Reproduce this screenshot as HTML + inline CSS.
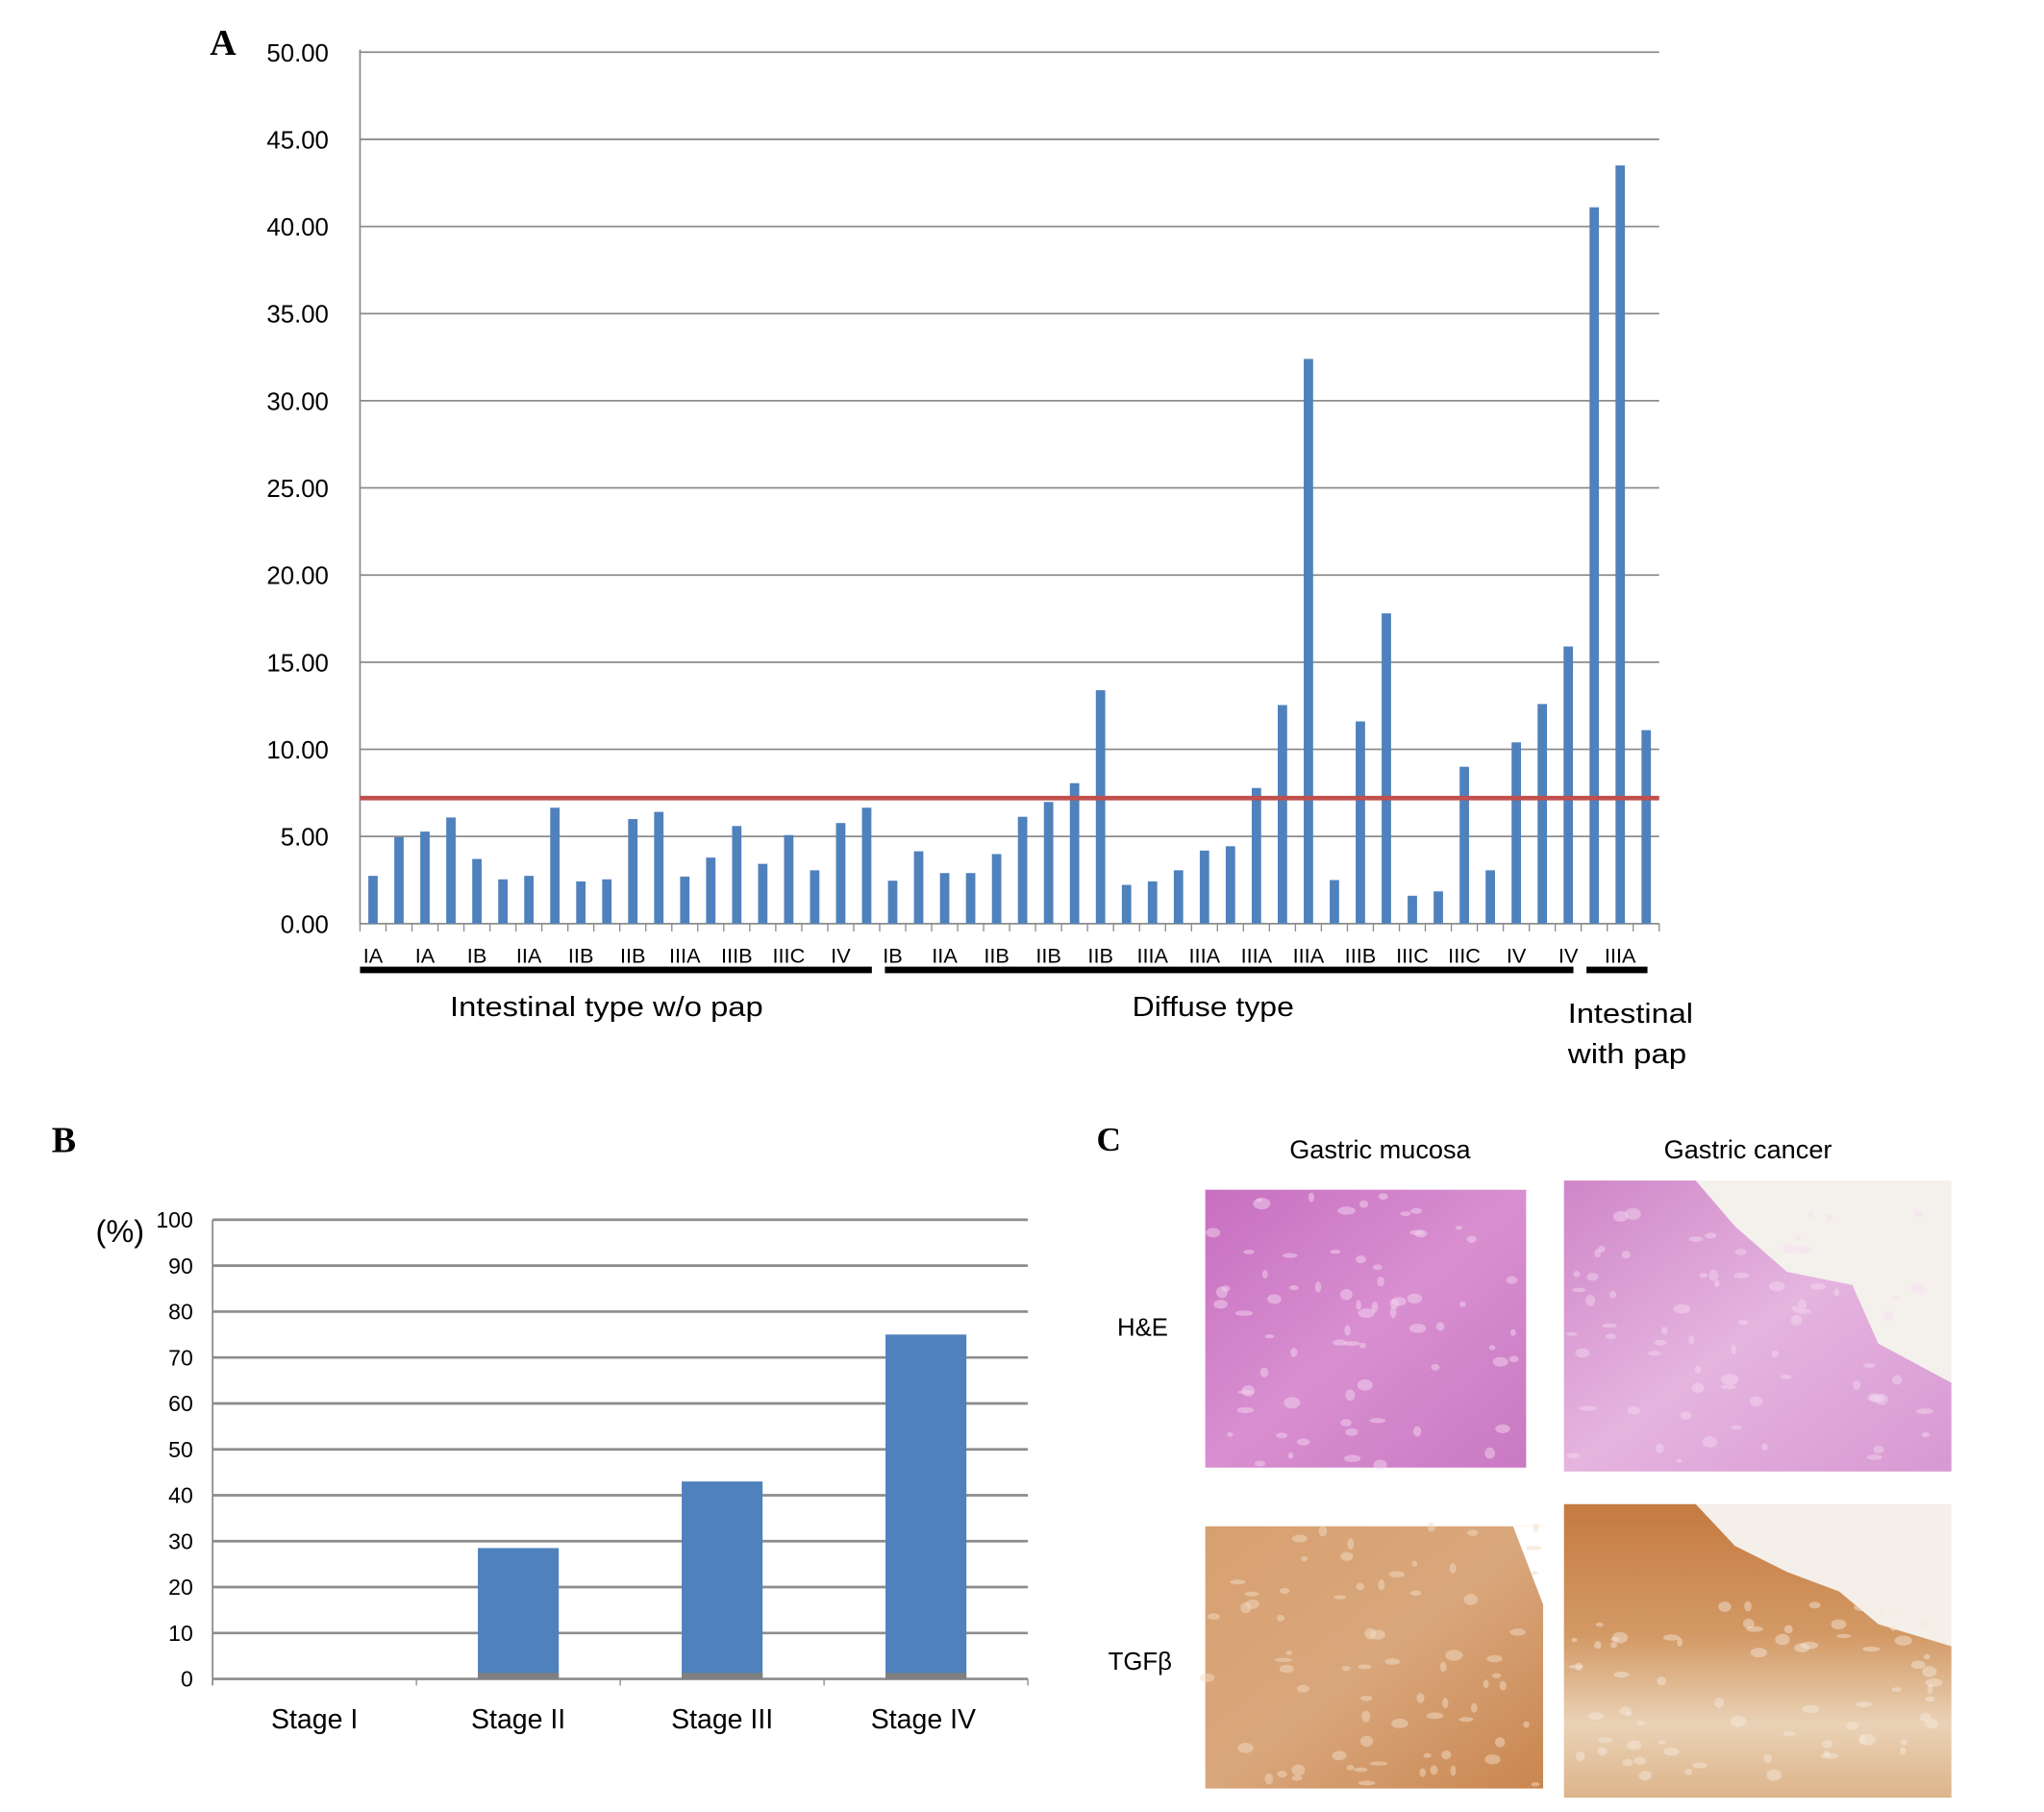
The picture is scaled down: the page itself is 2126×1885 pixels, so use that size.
<!DOCTYPE html>
<html><head><meta charset="utf-8"><style>
html,body{margin:0;padding:0;background:#fff}
svg{display:block}
text{font-family:"Liberation Sans",sans-serif}
</style></head><body>
<svg id="fig" width="2126" height="1885" viewBox="0 0 1567 1389" preserveAspectRatio="none" xmlns="http://www.w3.org/2000/svg">
<defs>
<linearGradient id="heM" x1="0" y1="0" x2="1" y2="1"><stop offset="0" stop-color="#c76fc0"/><stop offset="0.5" stop-color="#d88fd0"/><stop offset="1" stop-color="#c979c2"/></linearGradient>
<linearGradient id="heC" x1="0" y1="0" x2="1" y2="1"><stop offset="0" stop-color="#cf86c8"/><stop offset="0.5" stop-color="#e5b4df"/><stop offset="1" stop-color="#d898d2"/></linearGradient>
<linearGradient id="tgM" x1="0" y1="0" x2="1" y2="1"><stop offset="0" stop-color="#d7a070"/><stop offset="0.5" stop-color="#d9a77c"/><stop offset="1" stop-color="#c98650"/></linearGradient>
<linearGradient id="tgC" x1="0" y1="0" x2="0" y2="1"><stop offset="0" stop-color="#c57a40"/><stop offset="0.45" stop-color="#d39a66"/><stop offset="0.75" stop-color="#ead2b6"/><stop offset="1" stop-color="#dcb48a"/></linearGradient>
</defs>
<g id="panelA"></g>
<g id="panelB"></g>
<g id="panelC">
  <text x="850" y="882" font-weight="bold" font-size="26" text-anchor="middle" style="font-family:'Liberation Serif',serif">C</text>
  <text x="1058" y="888" font-size="20" text-anchor="middle">Gastric mucosa</text>
  <text x="1340" y="888" font-size="20" text-anchor="middle">Gastric cancer</text>
  <text x="876" y="1024" font-size="19" text-anchor="middle">H&amp;E</text>
  <text x="874" y="1280" font-size="19" text-anchor="middle">TGFβ</text>
  <rect x="924" y="912" width="246" height="213" fill="url(#heM)"/>
  <rect x="1199" y="905" width="297" height="223" fill="#f4f0ec"/>
  <polygon points="1199,905 1300,905 1330,940 1370,975 1420,985 1440,1030 1496,1060 1496,1128 1199,1128" fill="url(#heC)"/>
  <rect x="924" y="1170" width="259" height="201" fill="url(#tgM)"/>
  <polygon points="1183,1170 1160,1170 1183,1230" fill="#fff"/>
  <rect x="1199" y="1153" width="297" height="225" fill="#f4efe8"/>
  <polygon points="1199,1153 1300,1153 1330,1185 1370,1205 1410,1220 1440,1245 1496,1262 1496,1378 1199,1378" fill="url(#tgC)"/>
  <g id="texture"></g>
</g>
<script>
var NS="http://www.w3.org/2000/svg";
function mk(tag,attrs,parent,txt){var e=document.createElementNS(NS,tag);for(var k in attrs)e.setAttribute(k,attrs[k]);if(txt!==undefined)e.textContent=txt;parent.appendChild(e);return e;}

/* ---------- Panel A data ---------- */
var aValues=[2.74,4.96,5.28,6.09,3.71,2.54,2.74,6.65,2.42,2.54,6.0,6.41,2.7,3.79,5.6,3.43,5.08,3.06,5.77,6.65,
2.46,4.15,2.9,2.9,3.99,6.13,6.98,8.06,13.39,2.22,2.42,3.06,4.19,4.44,7.78,12.54,32.4,2.5,11.6,17.8,1.6,1.85,9.0,3.06,10.4,12.6,15.9,
41.1,43.5,11.1];
var aCategories=["IA","IA","IB","IIA","IIB","IIB","IIIA","IIIB","IIIC","IV","IB","IIA","IIB","IIB","IIB","IIIA","IIIA","IIIA","IIIA","IIIB","IIIC","IIIC","IV","IV","IIIA"];
var aTicks=["0.00","5.00","10.00","15.00","20.00","25.00","30.00","35.00","40.00","45.00","50.00"];
var aThreshold=7.2;
var aGroups=[{name:"Intestinal type w/o pap",from:0,to:20},{name:"Diffuse type",from:20,to:47},{name:"Intestinal with pap",from:47,to:50}];

/* ---------- Panel B data ---------- */
var bCategories=["Stage I","Stage II","Stage III","Stage IV"];
var bValues=[0,28.5,43,75];
var bTicks=[0,10,20,30,40,50,60,70,80,90,100];

(function(){
  var g=document.getElementById("panelA");
  var L=276,R=1272,Y0=708,Ytop=40,max=50;
  var y=function(v){return Y0-(v/max)*(Y0-Ytop);};
  var band=(R-L)/aValues.length;
  var x=function(i){return L+band*i;};
  var t=mk("text",{x:171,y:42,"font-size":28,"font-weight":"bold","text-anchor":"middle",style:"font-family:'Liberation Serif',serif"},g,"A");
  
  
  aTicks.forEach(function(lab){
    var v=parseFloat(lab);
    var gl=mk("line",{x1:L,x2:R,y1:y(v),y2:y(v),stroke:"#8c8c8c","stroke-width":1.3},g);
    
    
    var tl=mk("text",{x:252,y:y(v)+7,"font-size":19,"text-anchor":"end"},g,lab);
    
    
  });
  var ax=mk("line",{x1:L,x2:L,y1:Ytop-2,y2:Y0,stroke:"#8c8c8c","stroke-width":1.3},g);
  
  
  for(var i=0;i<=aValues.length;i++){
    var tk=mk("line",{x1:x(i),x2:x(i),y1:Y0,y2:Y0+6,stroke:"#8c8c8c","stroke-width":1},g);
    
    
  }
  aValues.forEach(function(v,i){
    var b=mk("rect",{x:x(i)+band/2-3.6,y:y(v),width:7.2,height:Y0-y(v),fill:"#4f81bd"},g);
    
    
  });
  var th=mk("line",{x1:L,x2:R,y1:y(aThreshold),y2:y(aThreshold),stroke:"#c0504d","stroke-width":3.5},g);
  
  
  aCategories.forEach(function(c,k){
    var cl=mk("text",{x:x(2*k)+band/2,y:738,"font-size":16,"text-anchor":"middle"},g,c);
    
    
  });
  aGroups.forEach(function(gr,k){
    var x1=x(gr.from)+(k?4:0), x2=x(gr.to)-(k==2?9:6);
    var br=mk("rect",{x:x1,y:741,width:x2-x1,height:5,fill:"#000"},g);
    
    
  });
  var g1=mk("text",{x:345,y:779,"font-size":21,textLength:240,lengthAdjust:"spacingAndGlyphs"},g,aGroups[0].name);
  
  
  var g2=mk("text",{x:868,y:779,"font-size":21,textLength:124,lengthAdjust:"spacingAndGlyphs"},g,aGroups[1].name);
  
  
  var g3=mk("text",{x:1202,y:784,"font-size":21,textLength:96,lengthAdjust:"spacingAndGlyphs"},g,"Intestinal");
  
  
  var g4=mk("text",{x:1202,y:815,"font-size":21,textLength:91,lengthAdjust:"spacingAndGlyphs"},g,"with pap");
  
  
})();

(function(){
  var g=document.getElementById("panelB");
  var L=163,R=788,Y0=1287,Ytop=935,max=100;
  var y=function(v){return Y0-(v/max)*(Y0-Ytop);};
  var band=(R-L)/bCategories.length;
  var t=mk("text",{x:49,y:883,"font-size":28,"font-weight":"bold","text-anchor":"middle",style:"font-family:'Liberation Serif',serif"},g,"B");
  
  
  var u=mk("text",{x:92,y:952,"font-size":24,"text-anchor":"middle"},g,"(%)");
  
  
  bTicks.forEach(function(v){
    var gl=mk("line",{x1:L,x2:R,y1:y(v),y2:y(v),stroke:"#8c8c8c","stroke-width":2},g);
    
    
    var tl=mk("text",{x:148,y:y(v)+6,"font-size":17,"text-anchor":"end"},g,String(v));
    
    
  });
  var ax=mk("line",{x1:L,x2:L,y1:Ytop,y2:Y0+5,stroke:"#8c8c8c","stroke-width":1.3},g);
  
  
  for(var i=0;i<=bCategories.length;i++){
    var tk=mk("line",{x1:L+band*i,x2:L+band*i,y1:Y0,y2:Y0+5,stroke:"#8c8c8c","stroke-width":1},g);
    
    
  }
  bValues.forEach(function(v,i){
    var cx=L+band*(i+0.5);
    if(v>0){
      var b=mk("rect",{x:cx-31,y:y(v),width:62,height:Y0-y(v),fill:"#4f81bd"},g);
      
      
      var s=mk("rect",{x:cx-31,y:y(1.3),width:62,height:Y0-y(1.3),fill:"#7f7f7f"},g);
      
      
    }
    var cl=mk("text",{x:cx+(i==3?-2:0),y:1325,"font-size":21,"text-anchor":"middle"},g,bCategories[i]);
    
    
  });
})();

(function(){
  var g=document.getElementById("texture");
  var boxes=[[924,912,246,213,"#f3d6ef",0.5],[1205,930,280,190,"#f6dcf2",0.45],[924,1170,259,201,"#f2dcc4",0.5],[1205,1230,280,140,"#f7ecdf",0.45]];
  var seed=7;function rnd(){seed=(seed*9301+49297)%233280;return seed/233280;}
  boxes.forEach(function(bx){
    for(var k=0;k<70;k++){
      var e=mk("ellipse",{cx:bx[0]+rnd()*bx[2],cy:bx[1]+rnd()*bx[3],rx:2+rnd()*5,ry:1.5+rnd()*3,fill:bx[4],opacity:bx[5]},g);
      
      
    }
  });
})();
</script>
</svg>
</body></html>
